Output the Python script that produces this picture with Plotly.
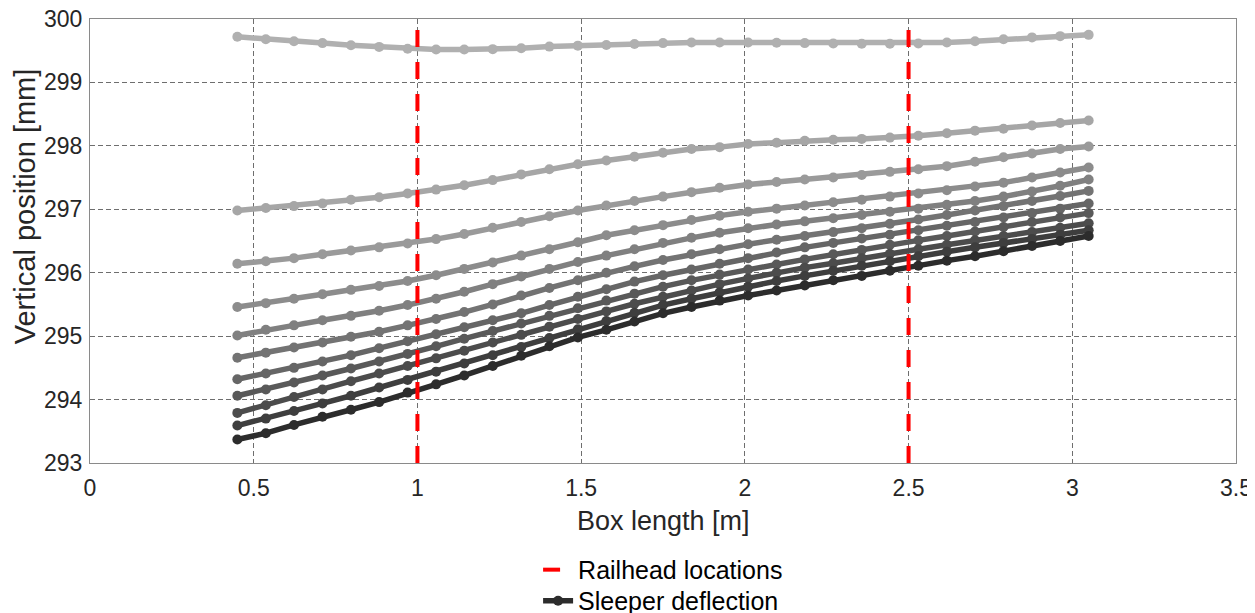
import plotly.graph_objects as go

# ---------------- data ----------------
box_x = [0.450, 0.537, 0.623, 0.710, 0.797, 0.883, 0.970, 1.057, 1.143, 1.230,
         1.317, 1.403, 1.490, 1.577, 1.663, 1.750, 1.837, 1.923, 2.010, 2.097,
         2.183, 2.270, 2.357, 2.443, 2.530, 2.617, 2.703, 2.790, 2.877, 2.963, 3.050]

s1 = [299.72, 299.68, 299.65, 299.62, 299.585, 299.56, 299.53, 299.52, 299.52, 299.525,
      299.54, 299.565, 299.58, 299.59, 299.605, 299.62, 299.63, 299.63, 299.63, 299.625,
      299.62, 299.615, 299.61, 299.61, 299.615, 299.63, 299.65, 299.68, 299.71, 299.73, 299.75]
s2 = [296.98, 297.02, 297.05, 297.09, 297.15, 297.19, 297.25, 297.31, 297.38, 297.46,
      297.55, 297.63, 297.71, 297.77, 297.83, 297.89, 297.95, 297.98, 298.03, 298.05,
      298.08, 298.095, 298.11, 298.13, 298.16, 298.20, 298.24, 298.27, 298.32, 298.36, 298.40]
s3 = [296.14, 296.18, 296.23, 296.29, 296.35, 296.40, 296.46, 296.53, 296.61, 296.71,
      296.80, 296.89, 296.98, 297.06, 297.13, 297.20, 297.27, 297.34, 297.39, 297.43,
      297.47, 297.50, 297.54, 297.59, 297.63, 297.68, 297.75, 297.82, 297.88, 297.95, 297.99]
s4 = [295.46, 295.52, 295.59, 295.66, 295.73, 295.79, 295.87, 295.96, 296.06, 296.16,
      296.27, 296.37, 296.48, 296.59, 296.67, 296.75, 296.83, 296.90, 296.96, 297.01,
      297.06, 297.11, 297.15, 297.20, 297.25, 297.30, 297.36, 297.42, 297.50, 297.58, 297.66]
s5 = [295.01, 295.10, 295.17, 295.25, 295.32, 295.40, 295.49, 295.59, 295.70, 295.82,
      295.94, 296.06, 296.17, 296.27, 296.37, 296.47, 296.55, 296.63, 296.70, 296.76,
      296.81, 296.86, 296.91, 296.96, 297.01, 297.07, 297.13, 297.20, 297.28, 297.37, 297.47]
s6 = [294.66, 294.74, 294.82, 294.90, 294.99, 295.07, 295.17, 295.27, 295.38, 295.50,
      295.64, 295.76, 295.88, 296.00, 296.10, 296.20, 296.29, 296.37, 296.45, 296.52,
      296.58, 296.64, 296.70, 296.77, 296.84, 296.91, 296.98, 297.05, 297.13, 297.21, 297.29]
s7 = [294.32, 294.41, 294.50, 294.60, 294.70, 294.81, 294.92, 295.03, 295.14, 295.25,
      295.36, 295.49, 295.62, 295.74, 295.86, 295.96, 296.05, 296.14, 296.23, 296.32,
      296.40, 296.47, 296.54, 296.60, 296.67, 296.74, 296.80, 296.87, 296.94, 297.01, 297.09]
s8 = [294.06, 294.16, 294.27, 294.38, 294.49, 294.60, 294.72, 294.84, 294.96, 295.08,
      295.20, 295.32, 295.44, 295.56, 295.67, 295.78, 295.88, 295.97, 296.05, 296.13,
      296.21, 296.29, 296.36, 296.44, 296.51, 296.58, 296.65, 296.72, 296.80, 296.87, 296.94]
s9 = [293.79, 293.91, 294.04, 294.16, 294.29, 294.41, 294.53, 294.65, 294.77, 294.90,
      295.02, 295.15, 295.27, 295.39, 295.51, 295.62, 295.72, 295.82, 295.91, 296.00,
      296.08, 296.15, 296.23, 296.30, 296.37, 296.44, 296.51, 296.58, 296.64, 296.71, 296.78]
s10 = [293.59, 293.70, 293.82, 293.94, 294.06, 294.19, 294.31, 294.44, 294.57, 294.70,
       294.83, 294.97, 295.11, 295.24, 295.37, 295.49, 295.59, 295.69, 295.78, 295.87,
       295.95, 296.03, 296.11, 296.18, 296.26, 296.33, 296.40, 296.47, 296.53, 296.60, 296.67]
s11 = [293.37, 293.47, 293.60, 293.73, 293.84, 293.96, 294.11, 294.24, 294.38, 294.53,
       294.69, 294.84, 294.98, 295.10, 295.23, 295.36, 295.46, 295.56, 295.64, 295.72,
       295.80, 295.88, 295.95, 296.03, 296.11, 296.19, 296.26, 296.34, 296.42, 296.50, 296.58]

series = [s1, s2, s3, s4, s5, s6, s7, s8, s9, s10, s11]
gray_colors = ["#b0b0b0", "#a6a6a6", "#9a9a9a", "#8c8c8c", "#808080", "#737373",
               "#666666", "#595959", "#4c4c4c", "#3e3e3e", "#2c2c2c"]

railhead_x = [1.0, 2.5]
y_range = [293, 300]
x_range = [0, 3.5]
x_ticks = [0, 0.5, 1, 1.5, 2, 2.5, 3, 3.5]
x_tick_text = ["0", "0.5", "1", "1.5", "2", "2.5", "3", "3.5"]
y_ticks = [293, 294, 295, 296, 297, 298, 299, 300]

FONT = "Liberation Sans, Arial, Helvetica, sans-serif"
TXT = "#262626"

fig = go.Figure()

last = len(series) - 1
for i, (ys, col) in enumerate(zip(series, gray_colors)):
    fig.add_trace(go.Scatter(
        x=box_x, y=ys, mode="lines+markers",
        line=dict(color=col, width=5.5),
        marker=dict(color=col, size=10),
        name="Sleeper deflection",
        showlegend=(i == last),
        legend="legend2",
    ))

for j, rx in enumerate(railhead_x):
    fig.add_trace(go.Scatter(
        x=[rx, rx], y=y_range, mode="lines",
        line=dict(color="#ff0000", width=4, dash="17px,15px"),
        name="Railhead locations",
        showlegend=(j == 0),
        legend="legend",
    ))

axis_common = dict(
    showgrid=True, gridcolor="#6e6e6e", gridwidth=1, griddash="5px,3px",
    showline=True, linecolor="#8a8a8a", linewidth=1, mirror=True,
    ticks="", zeroline=False, automargin=False, ticklabeloverflow="allow",
    tickfont=dict(family=FONT, size=23, color=TXT),
)

legend_common = dict(
    x=0.391, xanchor="left", yanchor="top",
    font=dict(family=FONT, size=25, color="#000000"),
    bgcolor="rgba(255,255,255,0)", itemwidth=30,
)

fig.update_layout(
    width=1247, height=605,
    margin=dict(l=82, r=19, t=11, b=150, autoexpand=False),
    paper_bgcolor="white", plot_bgcolor="white",
    font=dict(family=FONT, color=TXT),
    xaxis=dict(range=x_range, tickvals=x_ticks, ticktext=x_tick_text,
               ticklabelstandoff=4, **axis_common),
    yaxis=dict(range=y_range, tickvals=y_ticks, ticklabelstandoff=2, **axis_common),
    legend=dict(y=-0.189, **legend_common),
    legend2=dict(y=-0.259, **legend_common),
    showlegend=True,
    annotations=[
        dict(text="Box length [m]", xref="paper", yref="paper", x=0.5, y=-0.1306,
             xanchor="center", yanchor="middle", showarrow=False,
             font=dict(family=FONT, size=27, color=TXT)),
        dict(text="Vertical position [mm]", xref="paper", yref="paper", x=-0.0568, y=0.578,
             xanchor="center", yanchor="middle", showarrow=False, textangle=-90,
             font=dict(family=FONT, size=29, color=TXT)),
    ],
)

fig.write_html("out.html")
